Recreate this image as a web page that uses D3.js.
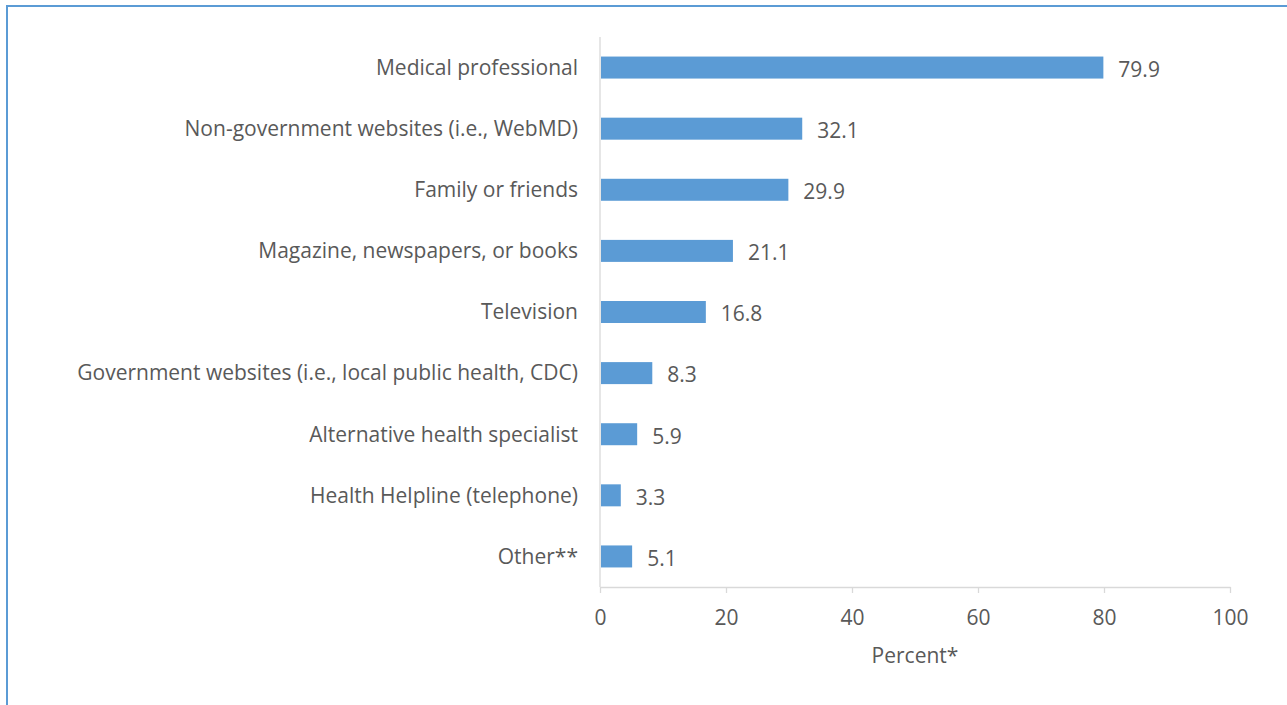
<!DOCTYPE html>
<html>
<head>
<meta charset="utf-8">
<script src="https://cdn.jsdelivr.net/npm/d3@7"></script>
<style>
  html, body { margin: 0; padding: 0; background: #fff; }
  svg { display: block; }
  text { font-family: "Open Sans", "Liberation Sans", sans-serif; fill: #595959; }
</style>
</head>
<body>
<svg id="chart" width="1287" height="705"></svg>
<script>
const categories = [
  "Medical professional",
  "Non-government websites (i.e., WebMD)",
  "Family or friends",
  "Magazine, newspapers, or books",
  "Television",
  "Government websites (i.e., local public health, CDC)",
  "Alternative health specialist",
  "Health Helpline (telephone)",
  "Other**"
];
const percentValues = [79.9, 32.1, 29.9, 21.1, 16.8, 8.3, 5.9, 3.3, 5.1];
const xTicks = [0, 20, 40, 60, 80, 100];
const xTitle = "Percent*";

(function () {
  const svg = d3.select("#chart");
  const blue = "#5B9BD5";
  const fontStack = '"Open Sans", "Liberation Sans", sans-serif';
  const fs = 21;

  // outer frame
  svg.append("rect")
    .attr("x", 7).attr("y", 6)
    .attr("width", 1400).attr("height", 800)
    .attr("fill", "none").attr("stroke", blue).attr("stroke-width", 2);

  const plotLeft = 600, plotRight = 1230, plotTop = 37, plotBottom = 587;

  const x = d3.scaleLinear().domain([0, 100]).range([plotLeft, plotRight]);
  const y = d3.scaleBand().domain(categories).range([plotTop, plotBottom])
    .paddingInner(0.64).paddingOuter(0.32);

  // x axis
  const xAxis = svg.append("g").attr("transform", `translate(0,${plotBottom})`)
    .call(d3.axisBottom(x).tickValues(xTicks).tickSizeInner(6).tickSizeOuter(0).tickPadding(17));
  xAxis.select(".domain").attr("stroke", "#D9D9D9").attr("stroke-width", 1.3);
  xAxis.selectAll(".tick line").attr("stroke", "#D9D9D9").attr("stroke-width", 1.3);
  xAxis.selectAll(".tick text").attr("font-size", fs).attr("fill", "#595959")
    .style("font-family", fontStack);

  // vertical category axis line
  svg.append("line")
    .attr("x1", x(0)).attr("x2", x(0))
    .attr("y1", plotTop).attr("y2", plotBottom)
    .attr("stroke", "#D9D9D9").attr("stroke-width", 1.3);

  // bars
  svg.append("g").selectAll("rect")
    .data(categories)
    .join("rect")
    .attr("x", x(0) + 1)
    .attr("y", d => y(d))
    .attr("width", (d, i) => x(percentValues[i]) - x(0) - 1)
    .attr("height", y.bandwidth())
    .attr("fill", blue);

  // category labels
  svg.append("g").selectAll("text")
    .data(categories)
    .join("text")
    .attr("x", plotLeft - 22)
    .attr("y", d => y(d) + y.bandwidth() / 2)
    .attr("dy", "0.35em")
    .attr("text-anchor", "end")
    .attr("font-size", fs)
    .text(d => d);

  // value labels
  svg.append("g").selectAll("text")
    .data(categories)
    .join("text")
    .attr("x", (d, i) => x(percentValues[i]) + 15)
    .attr("y", d => y(d) + y.bandwidth() / 2 + 2)
    .attr("dy", "0.35em")
    .attr("font-size", fs)
    .text((d, i) => percentValues[i].toFixed(1));

  // axis title
  svg.append("text")
    .attr("x", (plotLeft + plotRight) / 2)
    .attr("y", 656)
    .attr("dy", "0.35em")
    .attr("text-anchor", "middle")
    .attr("font-size", fs)
    .text(xTitle);
})();
</script>
</body>
</html>
